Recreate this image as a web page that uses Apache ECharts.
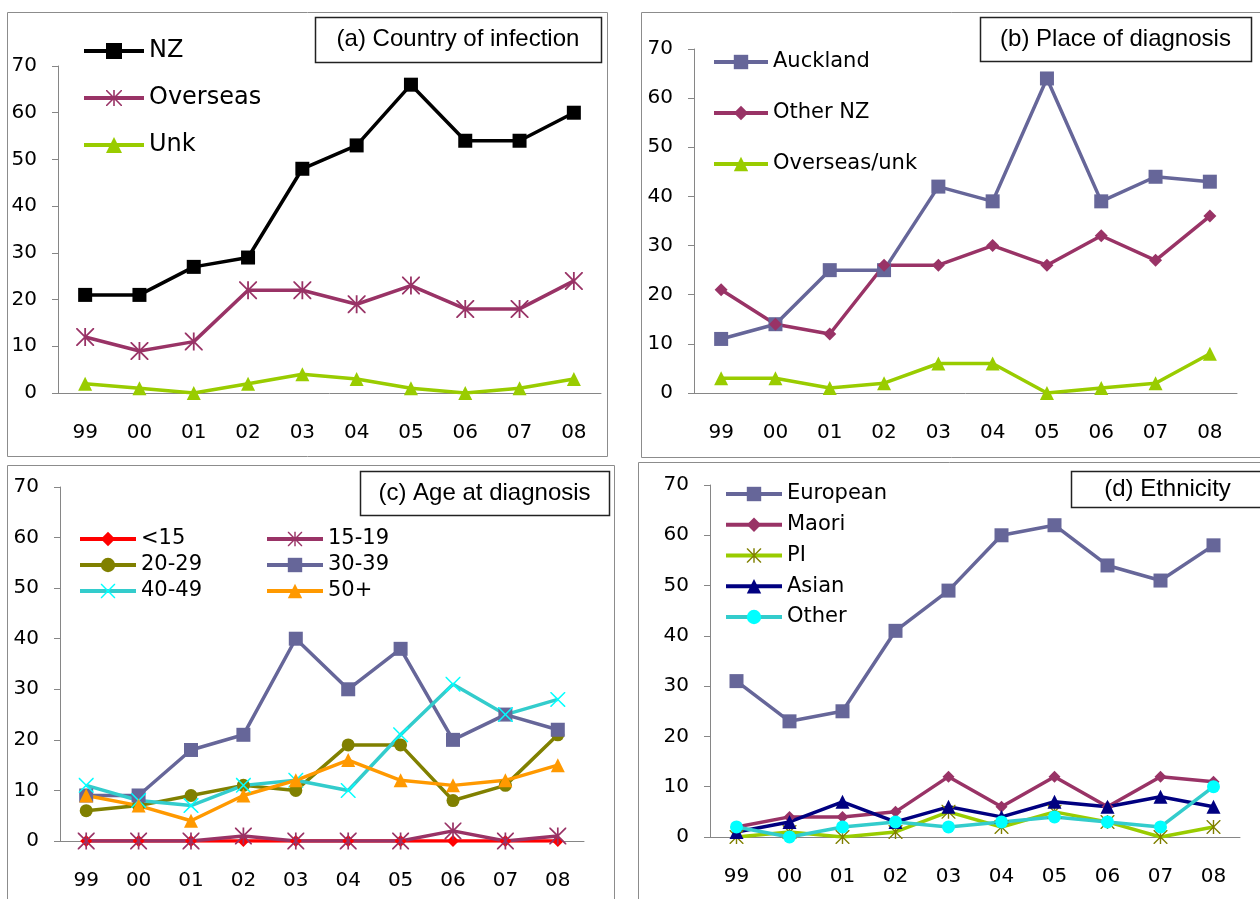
<!DOCTYPE html>
<html>
<head>
<meta charset="utf-8">
<script src="https://cdn.jsdelivr.net/npm/echarts@6/dist/echarts.min.js"></script>
<style>
  html, body { margin: 0; padding: 0; background: #fff; }
  #main { width: 1260px; height: 899px; }
</style>
</head>
<body>
<div id="main"></div>
<script>
// categories (year of diagnosis)
const years = ['99', '00', '01', '02', '03', '04', '05', '06', '07', '08']
const yTicks = { min: 0, max: 70, interval: 10 }

// (a) Country of infection
const nz = [21, 21, 27, 29, 48, 53, 66, 54, 54, 60]
const overseas = [12, 9, 11, 22, 22, 19, 23, 18, 18, 24]
const unk = [2, 1, 0, 2, 4, 3, 1, 0, 1, 3]

// (b) Place of diagnosis
const auckland = [11, 14, 25, 25, 42, 39, 64, 39, 44, 43]
const otherNZ = [21, 14, 12, 26, 26, 30, 26, 32, 27, 36]
const overseasUnk = [3, 3, 1, 2, 6, 6, 0, 1, 2, 8]

// (c) Age at diagnosis
const ageU15 = [0, 0, 0, 0, 0, 0, 0, 0, 0, 0]
const age15 = [0, 0, 0, 1, 0, 0, 0, 2, 0, 1]
const age20 = [6, 7, 9, 11, 10, 19, 19, 8, 11, 21]
const age30 = [9, 9, 18, 21, 40, 30, 38, 20, 25, 22]
const age40 = [11, 8, 7, 11, 12, 10, 21, 31, 25, 28]
const age50 = [9, 7, 4, 9, 12, 16, 12, 11, 12, 15]

// (d) Ethnicity
const european = [31, 23, 25, 41, 49, 60, 62, 54, 51, 58]
const maori = [2, 4, 4, 5, 12, 6, 12, 6, 12, 11]
const pi = [0, 1, 0, 1, 5, 2, 5, 3, 0, 2]
const asian = [1, 3, 7, 3, 6, 4, 7, 6, 8, 6]
const other = [2, 0, 2, 3, 2, 3, 4, 3, 2, 10]

const titles = ['(a) Country of infection', '(b) Place of diagnosis', '(c) Age at diagnosis', '(d) Ethnicity']

// excel-like marker shapes
const X_PATH = 'path://M0,0L0.7,0L5,4.3L9.3,0L10,0L10,0.7L5.7,5L10,9.3L10,10L9.3,10L5,5.7L0.7,10L0,10L0,9.3L4.3,5L0,0.7Z'
const STAR_PATH = X_PATH + 'M4.5,0L5.5,0L5.5,10L4.5,10Z'

const FONT = 'DejaVu Sans'
const AXIS_GRAY = '#868686'

const chart = echarts.init(document.getElementById('main'))

const grids = [
  { left: 58, top: 66, width: 543, height: 327 },
  { left: 694, top: 49, width: 543, height: 344 },
  { left: 60, top: 487, width: 524, height: 354 },
  { left: 710, top: 485, width: 530, height: 352 },
]

function line(name, data, gi, color, symbol, size, markerColor) {
  return {
    name,
    type: 'line',
    xAxisIndex: gi,
    yAxisIndex: gi,
    data,
    symbol,
    symbolSize: size,
    showAllSymbol: true,
    lineStyle: { color, width: 3.5 },
    itemStyle: { color: markerColor || color },
    emphasis: { disabled: true },
  }
}

const series = [
  line('NZ', nz, 0, '#000000', 'rect', 14),
  line('Overseas', overseas, 0, '#993366', STAR_PATH, 18),
  line('Unk', unk, 0, '#99CC00', 'triangle', 14),

  line('Auckland', auckland, 1, '#666699', 'rect', 14),
  line('Other NZ', otherNZ, 1, '#993366', 'diamond', 13),
  line('Overseas/unk', overseasUnk, 1, '#99CC00', 'triangle', 14),

  line('<15', ageU15, 2, '#FF0000', 'diamond', 12),
  line('15-19', age15, 2, '#993366', STAR_PATH, 17),
  line('20-29', age20, 2, '#808000', 'circle', 13),
  line('30-39', age30, 2, '#666699', 'rect', 14),
  line('40-49', age40, 2, '#33CCCC', X_PATH, 15, '#00FFFF'),
  line('50+', age50, 2, '#FF9900', 'triangle', 14),

  line('European', european, 3, '#666699', 'rect', 14),
  line('Maori', maori, 3, '#993366', 'diamond', 12),
  line('PI', pi, 3, '#99CC00', STAR_PATH, 14, '#808000'),
  line('Asian', asian, 3, '#000080', 'triangle', 14),
  line('Other', other, 3, '#33CCCC', 'circle', 13, '#00FFFF'),
]

const xAxis = grids.map((g, i) => ({
  type: 'category',
  gridIndex: i,
  data: years,
  boundaryGap: true,
  axisLine: { lineStyle: { color: AXIS_GRAY } },
  axisTick: { length: 7, lineStyle: { color: AXIS_GRAY } },
  axisLabel: { margin: 30, fontSize: 20, color: '#000', fontFamily: FONT },
}))

const yAxis = grids.map((g, i) => ({
  type: 'value',
  gridIndex: i,
  ...yTicks,
  axisLine: { show: true, lineStyle: { color: AXIS_GRAY } },
  axisTick: { show: true, length: 6, lineStyle: { color: AXIS_GRAY } },
  splitLine: { show: false },
  axisLabel: { margin: 21, fontSize: 20, color: '#000', fontFamily: FONT },
}))

function legend(names, left, top, opts) {
  return Object.assign({
    data: names,
    orient: 'vertical',
    left,
    top,
    padding: 0,
    itemWidth: 56,
    itemHeight: 18,
    selectedMode: false,
    lineStyle: { width: 4 },
    textStyle: { fontSize: 21, lineHeight: 22, color: '#000', fontFamily: FONT },
  }, opts)
}

const legends = [
  legend(['NZ', 'Overseas', 'Unk'], 82, 39, {
    itemWidth: 60, itemHeight: 20, itemGap: 23,
    textStyle: { fontSize: 24, lineHeight: 24, color: '#000', fontFamily: FONT },
  }),
  legend(['Auckland', 'Other NZ', 'Overseas/unk'], 712, 51, { itemWidth: 54, itemGap: 29 }),
  legend(['<15', '20-29', '40-49'], 78, 528, { itemGap: 4 }),
  legend(['15-19', '30-39', '50+'], 265, 528, { itemGap: 4 }),
  legend(['European', 'Maori', 'PI', 'Asian', 'Other'], 724, 483, { itemGap: 8.75 }),
]

// panel frames and title boxes
const frames = [
  [7, 12, 600, 444],
  [641, 12, 625, 445],
  [7, 465, 607, 440],
  [638, 462, 630, 445],
]
const titleBoxes = [
  [315, 17, 286, 45],
  [980, 17, 271, 44],
  [360, 471, 249, 44],
  [1071, 471, 193, 36],
]

const graphic = []
frames.forEach(f => {
  graphic.push({
    type: 'rect', silent: true,
    shape: { x: f[0] + 0.5, y: f[1] + 0.5, width: f[2], height: f[3] },
    style: { fill: 'none', stroke: '#8c8c8c', lineWidth: 1 },
  })
})
titleBoxes.forEach((b, i) => {
  graphic.push({
    type: 'rect', silent: true,
    shape: { x: b[0] + 0.5, y: b[1] + 0.5, width: b[2], height: b[3] },
    style: { fill: '#fff', stroke: '#222', lineWidth: 1.5 },
  })
  graphic.push({
    type: 'text', silent: true,
    x: b[0] + b[2] / 2, y: b[1] + b[3] / 2,
    style: {
      text: titles[i], fill: '#000', align: 'center', verticalAlign: 'middle',
      font: '24px "Liberation Sans"',
    },
  })
})

chart.setOption({
  animation: false,
  textStyle: { fontFamily: FONT },
  grid: grids,
  xAxis,
  yAxis,
  legend: legends,
  graphic,
  series,
})
</script>
</body>
</html>
